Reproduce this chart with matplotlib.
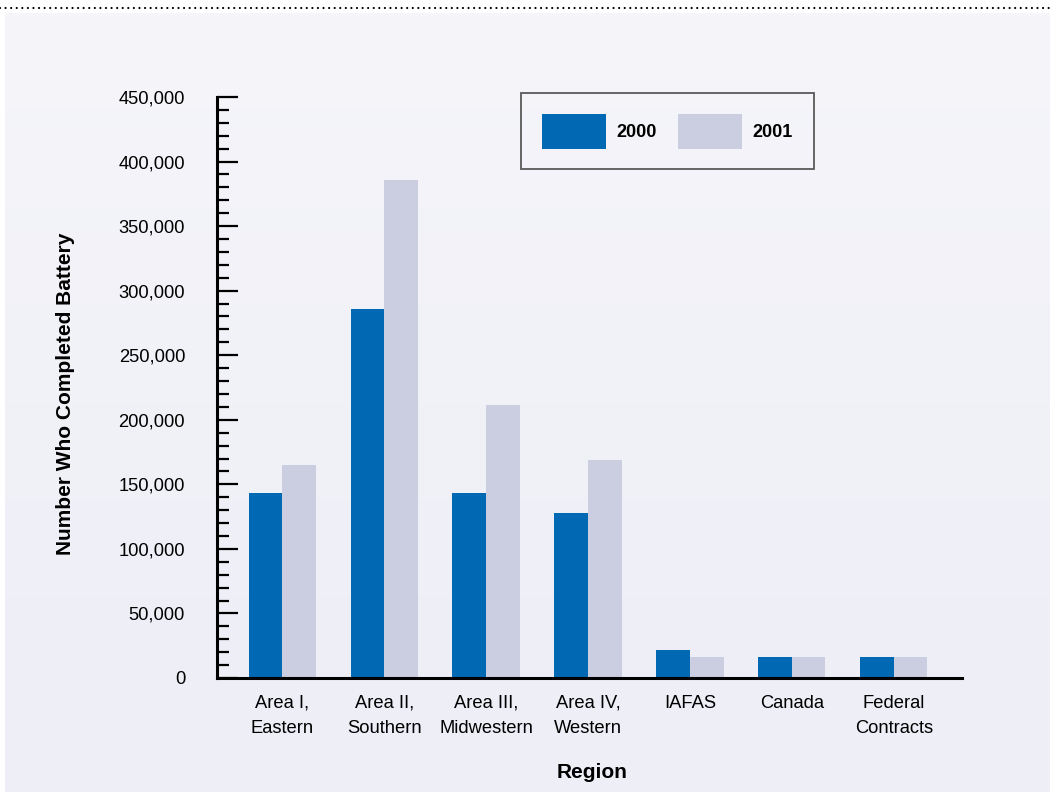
import numpy as np
import matplotlib
matplotlib.use("Agg")
import matplotlib.pyplot as plt
from matplotlib.lines import Line2D
from matplotlib.ticker import MultipleLocator, FuncFormatter

plt.rcParams['font.family'] = ['Liberation Sans', 'DejaVu Sans']

# data
regions = ["Area I,\nEastern", "Area II,\nSouthern", "Area III,\nMidwestern",
           "Area IV,\nWestern", "IAFAS", "Canada", "Federal\nContracts"]
y2000 = [143500, 286000, 143000, 127500, 21500, 16000, 16000]
y2001 = [165000, 386000, 211500, 169000, 16000, 16000, 16000]

blue = "#0168b3"
grey = "#cbcee0"

fig = plt.figure(figsize=(10.5, 7.92), dpi=100)
fig.patch.set_facecolor("white")

# shaded panel behind the chart
bg = fig.add_axes([5 / 1050, 0, 1 - 5 / 1050, 1 - 13 / 792], zorder=-10)
grad = np.linspace(0, 1, 256)[:, None]
cmap = matplotlib.colors.LinearSegmentedColormap.from_list("bg", ["#f5f5fa", "#edeef6"])
bg.imshow(grad, aspect="auto", cmap=cmap, extent=[0, 1, 0, 1])
bg.set_axis_off()

# dotted rule along the top
fig.add_artist(Line2D([0, 1], [1 - 8 / 792, 1 - 8 / 792], transform=fig.transFigure,
                      color="black", lw=1.6, ls=(0, (0.01, 2.5)),
                      dash_capstyle="round"))

ax = fig.add_axes([217 / 1050, 1 - 678 / 792, (962 - 217) / 1050, (678 - 97) / 792])
ax.patch.set_alpha(0)

x = np.arange(len(regions))
w = 0.33
ax.bar(x - w / 2, y2000, width=w, color=blue, label="2000", zorder=2)
ax.bar(x + w / 2, y2001, width=w, color=grey, label="2001", zorder=2)

ax.set_xlim(-0.64, 6.67)
ax.set_ylim(0, 450000)

for s in ["top", "right"]:
    ax.spines[s].set_visible(False)
for s in ["left", "bottom"]:
    ax.spines[s].set_linewidth(2.2)
    ax.spines[s].set_color("black")

ax.yaxis.set_major_locator(MultipleLocator(50000))
ax.yaxis.set_minor_locator(MultipleLocator(10000))
ax.yaxis.set_major_formatter(FuncFormatter(lambda v, p: f"{int(v):,}"))
ax.tick_params(axis="y", which="major", direction="in", length=15, width=1.6,
               pad=23, labelsize=13.2)
ax.tick_params(axis="y", which="minor", direction="in", length=8.5, width=1.6)
ax.set_xticks(x)
ax.set_xticklabels(regions, fontsize=13.2, linespacing=1.65)
ax.tick_params(axis="x", length=0, pad=12)

fig.text(66 / 1050, 1 - 394 / 792, "Number Who Completed Battery", rotation=90,
         ha="center", va="center", fontsize=15, fontweight="bold")
fig.text(592 / 1050, 1 - 772 / 792, "Region", ha="center", va="center",
         fontsize=15, fontweight="bold")

leg = ax.legend(loc="upper left", bbox_to_anchor=(521 / 1050, 1 - 93 / 792),
                bbox_transform=fig.transFigure, ncol=2, frameon=True, fancybox=False,
                prop={"weight": "bold", "size": 13}, handlelength=3.55, handleheight=2.6,
                handletextpad=0.6, columnspacing=1.15, borderpad=1.15, borderaxespad=0)
leg.get_frame().set_edgecolor("#333333")
leg.get_frame().set_linewidth(1.3)
leg.get_frame().set_facecolor("none")

fig.savefig("out.png", dpi=100)
